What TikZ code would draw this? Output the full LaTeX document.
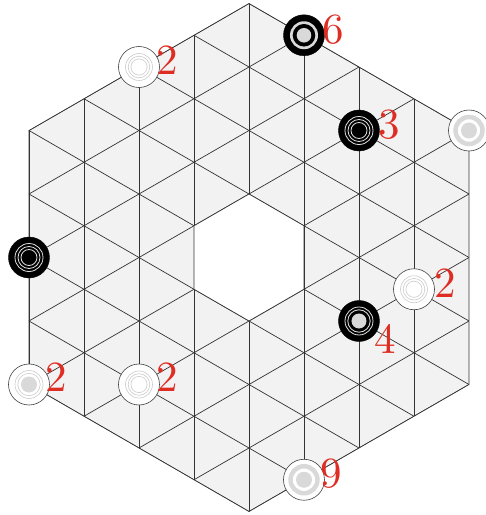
\documentclass[tikz,border=0pt]{standalone}
\definecolor{numred}{RGB}{222,45,35}

\begin{document}
\begin{tikzpicture}[
    x=55pt, y=31.75pt,
    grid/.style={draw=black!80, line width=0.7pt},
    board/.style={fill=black!5},
    stone/.style={circle, minimum size=41pt, inner sep=0pt},
    dark/.style={stone, fill=black, draw=black},
    light/.style={stone, fill=white, draw=black!75, line width=0.6pt},
    bstack/.style={dark, path picture={
        \foreach \r in {14,11,8}
          \draw[gray!25, line width=0.8pt] (path picture bounding box.center) circle (\r pt);}},
    bstackg/.style={dark, path picture={
        \foreach \r in {14,11.2}
          \draw[gray!25, line width=0.8pt] (path picture bounding box.center) circle (\r pt);
        \fill[gray!30] (path picture bounding box.center) circle (7.5pt);}},
    bdouble/.style={dark, path picture={
        \fill[gray!30] (path picture bounding box.center) circle (14pt);
        \fill[black] (path picture bounding box.center) circle (11.3pt);
        \fill[gray!30] (path picture bounding box.center) circle (7.3pt);}},
    wstack/.style={light, path picture={
        \foreach \r in {13.5,10.8,8.1}
          \draw[gray!40, line width=0.6pt] (path picture bounding box.center) circle (\r pt);}},
    wstackg/.style={light, path picture={
        \foreach \r in {14,11.2}
          \draw[gray!40, line width=0.6pt] (path picture bounding box.center) circle (\r pt);
        \fill[gray!30] (path picture bounding box.center) circle (8pt);}},
    wband/.style={light, path picture={
        \draw[gray!30, line width=4.5pt] (path picture bounding box.center) circle (13.5pt);
        \fill[gray!30] (path picture bounding box.center) circle (8pt);}},
    num/.style={text=numred, inner sep=0pt, scale=4.3}
]
\useasboundingbox (-249pt,-257.5pt) rectangle (237pt,257.5pt);

% board with triangle grid
\begin{scope}
  \clip (0,8) -- (4,4) -- (4,-4) -- (0,-8) -- (-4,-4) -- (-4,4) -- cycle;
  \fill[board] (0,8) -- (4,4) -- (4,-4) -- (0,-8) -- (-4,-4) -- (-4,4) -- cycle;
  \foreach \c in {-8,-6,...,8} {
    \draw[grid] (-5,-5+\c) -- (5,5+\c);
    \draw[grid] (-5,5+\c) -- (5,-5+\c);
  }
  \foreach \i in {-4,...,4}
    \draw[grid] (\i,-9) -- (\i,9);
\end{scope}
\draw[grid] (0,8) -- (4,4) -- (4,-4) -- (0,-8) -- (-4,-4) -- (-4,4) -- cycle;

% hole in the middle
\filldraw[fill=white, grid] (0,2) -- (1,1) -- (1,-1) -- (0,-2) -- (-1,-1) -- (-1,1) -- cycle;

% stones
\node[bdouble] (s6) at (1,7) {};
\node[wstack] (s2a) at (-2,6) {};
\node[bstack] (s3) at (2,4) {};
\node[wband] (sr) at (4,4) {};
\node[bstack] (sl) at (-4,0) {};
\node[wstack] (s2b) at (3,-1) {};
\node[bstackg] (s4) at (2,-2) {};
\node[wstackg] (s2c) at (-4,-4) {};
\node[wstack] (s2d) at (-2,-4) {};
\node[wband] (s9) at (1,-7) {};

% heights
\node[num] (l6) at ([shift={(29pt,6pt)}]s6.center) {6};
\node[num] (l2a) at ([shift={(28pt,7pt)}]s2a.center) {2};
\node[num] (l3) at ([shift={(30pt,6pt)}]s3.center) {3};
\node[num] (l2b) at ([shift={(31pt,6pt)}]s2b.center) {2};
\node[num] (l4) at ([shift={(26pt,-18pt)}]s4.center) {4};
\node[num] (l2c) at ([shift={(27pt,7pt)}]s2c.center) {2};
\node[num] (l2d) at ([shift={(28pt,7pt)}]s2d.center) {2};
\node[num] (l9) at ([shift={(27pt,6pt)}]s9.center) {9};

\end{tikzpicture}
\end{document}
